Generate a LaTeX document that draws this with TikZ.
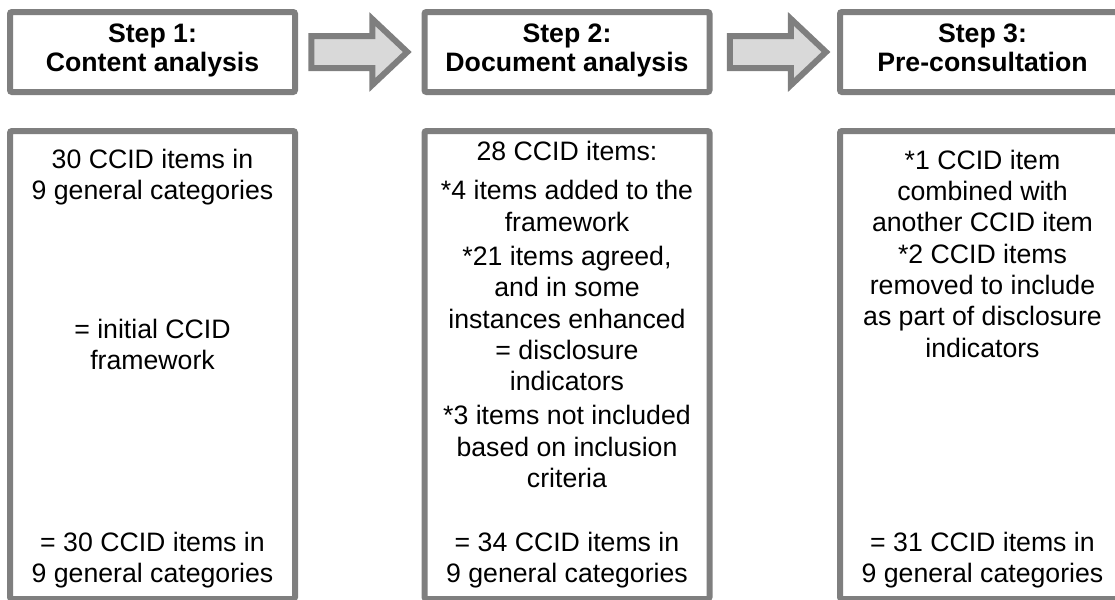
\documentclass[tikz,border=0pt]{standalone}
\usepackage{fontspec}
\setmainfont{Liberation Sans}
\usetikzlibrary{positioning,calc}
\definecolor{framegray}{HTML}{7F7F7F}
\definecolor{arrowgray}{HTML}{D9D9D9}
\tikzset{
  stepbox/.style={draw=framegray, line width=4.5pt, fill=white, rounded corners=1.5pt,
    minimum width=213.75pt, minimum height=60pt, inner sep=0pt, align=center,
    font=\fontsize{20}{22}\selectfont\bfseries,
    execute at begin node=\strut, execute at end node=\strut},
  bodybox/.style={draw=framegray, line width=4.5pt, fill=white, rounded corners=1.5pt,
    minimum width=213.75pt, minimum height=351pt},
  bodytext/.style={font=\fontsize{20}{23.5}\selectfont, align=center, anchor=north, inner sep=0pt},
  blockarrow/.pic={
    \draw[draw=framegray, fill=arrowgray, line width=4.5pt]
      (-48.5,-16) -- (12.5,-16) -- (12.5,-33) -- (47.5,0) -- (12.5,33) -- (12.5,16) -- (-48.5,16) -- cycle;
  }
}

\begin{document}
\begin{tikzpicture}[x=0.75pt,y=-0.75pt]
  \clip (0,0) rectangle (1115,600);

  % step headers
  \node[stepbox] (step1) at (152.5,52) {Step 1:\\Content analysis};
  \node[stepbox] (step2) at (567,52) {Step 2:\\Document analysis};
  \node[stepbox] (step3) at (982.5,52) {Step 3:\\Pre-consultation};

  \pic at ($(step1.east)!0.5!(step2.west)$) {blockarrow};
  \pic at ($(step2.east)!0.53!(step3.west)$) {blockarrow};

  % result boxes
  \node[bodybox] (body1) at (152.5,365) {};
  \node[bodybox] (body2) at (567,365) {};
  \node[bodybox] (body3) at (982.5,365) {};

  \node[bodytext] (b1top) at (152.5,148.5) {30 CCID items in\\9 general categories};
  \node[bodytext] (b1mid) at (152.5,318.5) {= initial CCID\\framework};
  \node[bodytext] (b1end) at (152.5,532) {= 30 CCID items in\\9 general categories};

  \node[bodytext] (b2top) at (567,141) {28 CCID items:\\[6pt]
    *4 items added to the\\framework\\[2.25pt]
    *21 items agreed,\\and in some\\instances enhanced\\= disclosure\\indicators\\[2pt]
    *3 items not included\\based on inclusion\\criteria};
  \node[bodytext] (b2end) at (567,532) {= 34 CCID items in\\9 general categories};

  \node[bodytext] (b3top) at (982.5,149.5) {*1 CCID item\\combined with\\another CCID item\\*2 CCID items\\removed to include\\as part of disclosure\\indicators};
  \node[bodytext] (b3end) at (982.5,532) {= 31 CCID items in\\9 general categories};
\end{tikzpicture}
\end{document}
